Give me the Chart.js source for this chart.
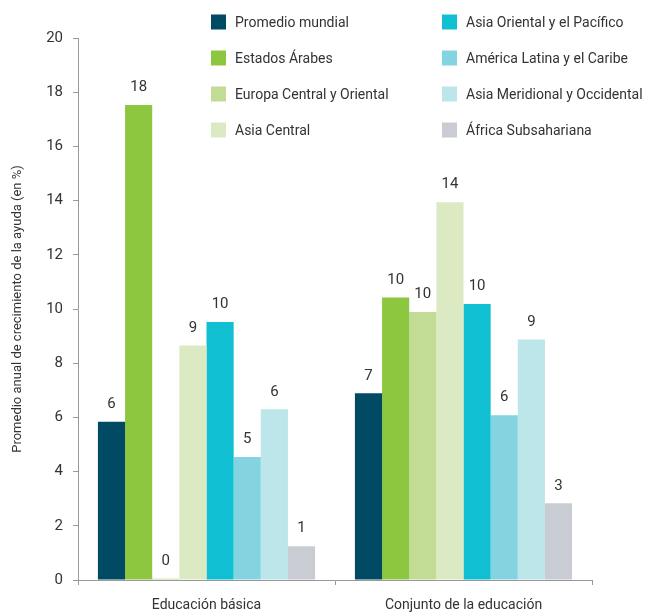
<!DOCTYPE html>
<html>
<head>
<meta charset="utf-8">
<script src="https://cdn.jsdelivr.net/npm/chart.js@4"></script>
<style>
  html, body { margin:0; padding:0; background:#fff; }
  #wrap { width:645px; height:613px; position:relative; }
</style>
</head>
<body>
<div id="wrap"><canvas id="chart"></canvas></div>
<script>
const categories = ['Educación básica', 'Conjunto de la educación']
const seriesNames = ['Promedio mundial', 'Estados Árabes', 'Europa Central y Oriental', 'Asia Central',
  'Asia Oriental y el Pacífico', 'América Latina y el Caribe', 'Asia Meridional y Occidental', 'África Subsahariana']
const colors = ['#004b63', '#8dc63f', '#c2dc96', '#dbeac3', '#10bfd2', '#84d3e0', '#bde6eb', '#c9ccd3']
// one array per series: [básica, conjunto]
const promedio = [5.84, 6.89]
const arabes = [17.53, 10.42]
const europa = [0.05, 9.89]
const asiaCentral = [8.65, 13.94]
const asiaOriental = [9.52, 10.18]
const americaLatina = [4.54, 6.08]
const asiaMeridional = [6.3, 8.87]
const africa = [1.25, 2.83]
const yTicks = [0, 2, 4, 6, 8, 10, 12, 14, 16, 18, 20]

const seriesValues = [promedio, arabes, europa, asiaCentral, asiaOriental, americaLatina, asiaMeridional, africa]
const FONT = 'Roboto, "Open Sans", sans-serif'
const TXT = '#333333'

// labels above bars (rounded)
const valueLabels = {
  id: 'valueLabels',
  afterDatasetsDraw(chart){
    const ctx = chart.ctx
    ctx.save()
    ctx.font = '15px ' + FONT
    ctx.fillStyle = TXT
    ctx.textAlign = 'center'
    ctx.textBaseline = 'bottom'
    chart.data.datasets.forEach((ds, i)=>{
      chart.getDatasetMeta(i).data.forEach((bar, j)=>{
        ctx.fillText(String(Math.round(ds.data[j])), bar.x, bar.y - 10)
      })
    })
    ctx.restore()
  }
}

// two-column legend in the top right
const sideLegend = {
  id: 'sideLegend',
  afterDraw(chart){
    const ctx = chart.ctx
    ctx.save()
    ctx.font = '14px ' + FONT
    ctx.textBaseline = 'middle'
    chart.data.datasets.forEach((ds, i)=>{
      const col = Math.floor(i / 4), row = i % 4
      const x = col ? 442 : 211
      const y = 22 + row * 36
      ctx.fillStyle = ds.backgroundColor
      ctx.fillRect(x, y - 7.5, 15, 15)
      ctx.fillStyle = TXT
      ctx.fillText(ds.label, x + 24, y + 1)
    })
    ctx.restore()
  }
}

new Chart(document.getElementById('chart'), {
  type: 'bar',
  data: {
    labels: categories,
    datasets: seriesNames.map((n, i)=>({
      label: n, data: seriesValues[i], backgroundColor: colors[i],
      categoryPercentage: 0.845, barPercentage: 1
    }))
  },
  options: {
    responsive: true, maintainAspectRatio: false, animation: false,
    layout: { padding: { top: 38, right: 53, left: 10, bottom: 0 } },
    plugins: { legend: { display: false }, tooltip: { enabled: false } },
    scales: {
      x: {
        grid: { display: true, offset: true, drawOnChartArea: false, drawTicks: true, tickLength: 5, color: '#999' },
        border: { color: '#999', width: 1 },
        ticks: { color: TXT, font: { family: FONT, size: 14 }, padding: 12 },
        afterFit(s){ s.height = 33 }
      },
      y: {
        min: 0, max: 20,
        afterBuildTicks(s){ s.ticks = yTicks.map(v=>({ value: v })) },
        grid: { display: true, drawOnChartArea: false, drawTicks: true, tickLength: 5, color: '#999' },
        border: { color: '#999', width: 1 },
        ticks: { color: TXT, font: { family: FONT, size: 15 }, padding: 10 },
        title: { display: true, text: 'Promedio anual de crecimiento de la ayuda (en %)', color: TXT,
          font: { family: FONT, size: 13 }, padding: { top: 0, bottom: 2 } },
        afterFit(s){ s.width = 68 }
      }
    }
  },
  plugins: [valueLabels, sideLegend]
})
</script>
</body>
</html>
